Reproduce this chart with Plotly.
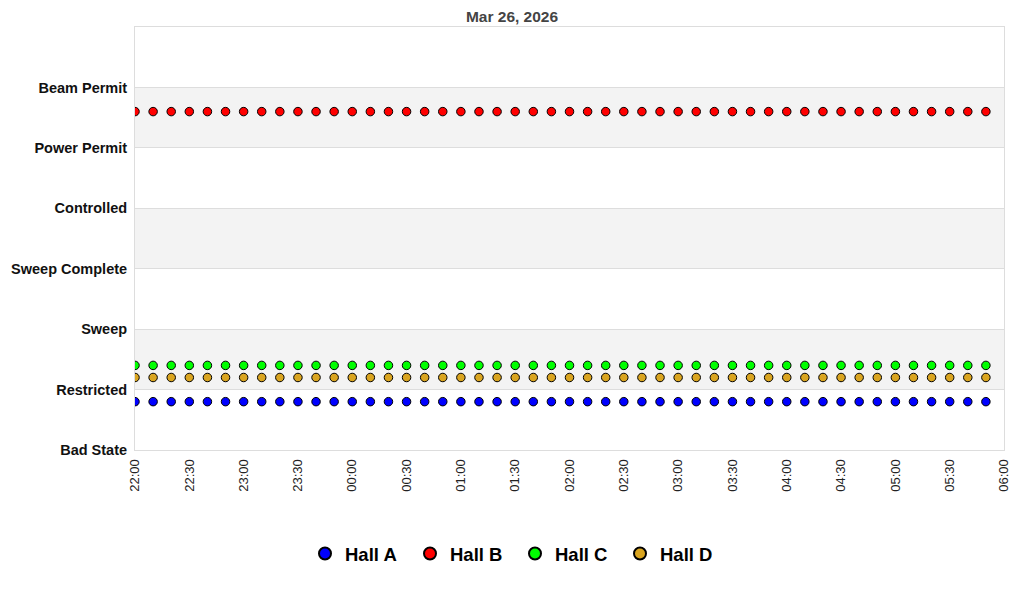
import pandas as pd
import plotly.graph_objects as go

# Data
state_labels = ["Bad State", "Restricted", "Sweep", "Sweep Complete", "Controlled", "Power Permit", "Beam Permit"]
state_values = [0, 1, 2, 3, 4, 5, 6]
times = list(pd.date_range("2026-03-25 22:00", "2026-03-26 05:50", freq="10min"))

hall_a = [0.8, 0.8, 0.8, 0.8, 0.8, 0.8, 0.8, 0.8, 0.8, 0.8, 0.8, 0.8,
          0.8, 0.8, 0.8, 0.8, 0.8, 0.8, 0.8, 0.8, 0.8, 0.8, 0.8, 0.8,
          0.8, 0.8, 0.8, 0.8, 0.8, 0.8, 0.8, 0.8, 0.8, 0.8, 0.8, 0.8,
          0.8, 0.8, 0.8, 0.8, 0.8, 0.8, 0.8, 0.8, 0.8, 0.8, 0.8, 0.8]
hall_b = [5.6, 5.6, 5.6, 5.6, 5.6, 5.6, 5.6, 5.6, 5.6, 5.6, 5.6, 5.6,
          5.6, 5.6, 5.6, 5.6, 5.6, 5.6, 5.6, 5.6, 5.6, 5.6, 5.6, 5.6,
          5.6, 5.6, 5.6, 5.6, 5.6, 5.6, 5.6, 5.6, 5.6, 5.6, 5.6, 5.6,
          5.6, 5.6, 5.6, 5.6, 5.6, 5.6, 5.6, 5.6, 5.6, 5.6, 5.6, 5.6]
hall_c = [1.4, 1.4, 1.4, 1.4, 1.4, 1.4, 1.4, 1.4, 1.4, 1.4, 1.4, 1.4,
          1.4, 1.4, 1.4, 1.4, 1.4, 1.4, 1.4, 1.4, 1.4, 1.4, 1.4, 1.4,
          1.4, 1.4, 1.4, 1.4, 1.4, 1.4, 1.4, 1.4, 1.4, 1.4, 1.4, 1.4,
          1.4, 1.4, 1.4, 1.4, 1.4, 1.4, 1.4, 1.4, 1.4, 1.4, 1.4, 1.4]
hall_d = [1.2, 1.2, 1.2, 1.2, 1.2, 1.2, 1.2, 1.2, 1.2, 1.2, 1.2, 1.2,
          1.2, 1.2, 1.2, 1.2, 1.2, 1.2, 1.2, 1.2, 1.2, 1.2, 1.2, 1.2,
          1.2, 1.2, 1.2, 1.2, 1.2, 1.2, 1.2, 1.2, 1.2, 1.2, 1.2, 1.2,
          1.2, 1.2, 1.2, 1.2, 1.2, 1.2, 1.2, 1.2, 1.2, 1.2, 1.2, 1.2]

series_names = ["Hall A", "Hall B", "Hall C", "Hall D"]
series_values = [hall_a, hall_b, hall_c, hall_d]
series_colors = ["#0000ff", "#ff0000", "#00ff00", "#daa520"]

band_ranges = [(1, 2), (3, 4), (5, 6)]

W, H = 1008, 584

fig = go.Figure()
for name, vals, col in zip(series_names, series_values, series_colors):
    fig.add_trace(go.Scatter(
        x=times, y=vals, name=name, mode="markers",
        marker=dict(symbol="circle", size=8.5, color=col, line=dict(color="black", width=1)),
    ))

for y0, y1 in band_ranges:
    fig.add_shape(type="rect", xref="paper", yref="y", x0=0, x1=1, y0=y0, y1=y1,
                  fillcolor="#f3f3f3", line=dict(width=0), layer="below")

fig.update_layout(
    width=W, height=H,
    margin=dict(l=127, r=12, t=19, b=142, autoexpand=False),
    paper_bgcolor="white", plot_bgcolor="white",
    font=dict(family="Arial, Liberation Sans, sans-serif", color="#000"),
    title=dict(text="<b>Mar 26, 2026</b>", x=0.5, xref="container", xanchor="center",
               y=1 - 9 / H, yref="container", yanchor="middle",
               font=dict(size=15.5, color="#444")),
    showlegend=True,
    legend=dict(orientation="h", x=0.5 + 3 / W, xref="container", xanchor="center",
                y=1 - 546 / H, yref="container", yanchor="middle",
                font=dict(size=18.5, color="#000", weight="bold"),
                itemsizing="constant", itemwidth=30, tracegroupgap=0,
                entrywidth=60, entrywidthmode="pixels"),
)

fig.update_xaxes(
    type="date",
    range=["2026-03-25 22:00", "2026-03-26 06:00"],
    dtick=30 * 60 * 1000, tick0="2026-03-25 22:00", tickformat="%H:%M",
    tickangle=-90, tickfont=dict(size=13, color="#222"),
    showgrid=False, showline=True, linecolor="#dddddd", linewidth=1, mirror=True,
    ticks="", zeroline=False, automargin=False, ticklabelstandoff=3,
)
fig.update_yaxes(
    range=[0, 7], tickvals=state_values, ticktext=state_labels,
    tickfont=dict(size=14.5, color="#111", weight="bold"),
    showgrid=True, gridcolor="#dddddd", gridwidth=1,
    showline=True, linecolor="#dddddd", linewidth=1, mirror=True,
    zeroline=False, ticks="", ticklabelstandoff=4, automargin=False,
)

fig.write_html("out.html")
